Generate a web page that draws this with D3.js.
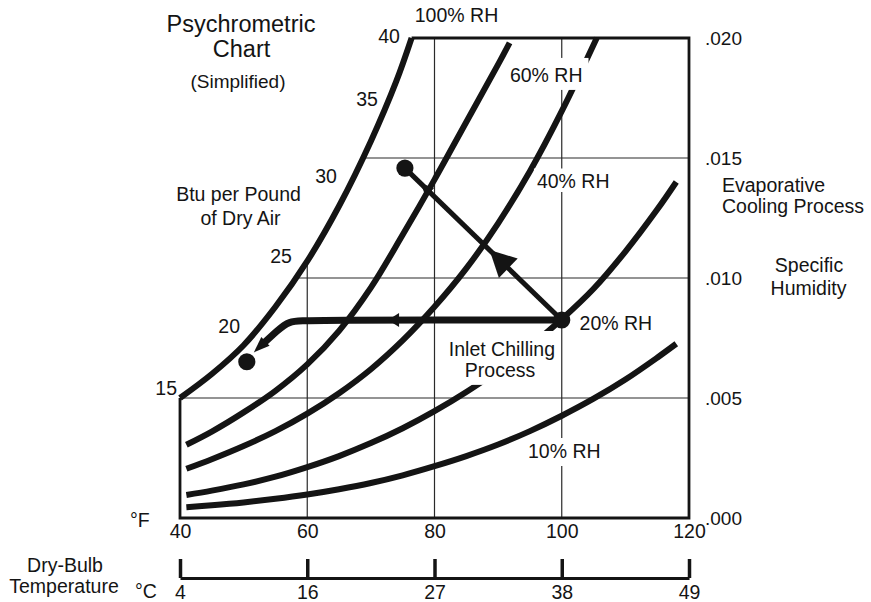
<!DOCTYPE html>
<html><head><meta charset="utf-8">
<script src="https://cdn.jsdelivr.net/npm/d3@7"></script>
<style>
html,body{margin:0;padding:0;background:#fff;}
svg{display:block;font-family:"Liberation Sans",Arial,Helvetica,sans-serif;}
</style></head>
<body><svg id="chart" width="871" height="602"></svg>
<script>
// ---------------- data ----------------
const tempTicksF = [40, 60, 80, 100, 120];
const tempTicksC = ["4", "16", "27", "38", "49"];
const humidityTicks = [0, 0.005, 0.010, 0.015, 0.020];
const gridTempsF = [60, 80, 100];
const gridHumidity = [0.005, 0.010, 0.015];

// relative-humidity curves: dry-bulb °F vs specific humidity
const rh100T = [40, 45, 50, 55, 60, 65, 70, 74, 76.4];
const rh100W = [.0050, .0060, .0072, .0088, .0107, .0130, .0157, .0182, .0200];
const rh60T = [41, 45, 50, 55, 60, 65, 70, 75, 80, 85, 90, 91.8];
const rh60W = [.00305, .00360, .00440, .00530, .00640, .00780, .00960, .01180, .01410, .01650, .01890, .01980];
const rh40T = [41, 45, 50, 55, 60, 65, 70, 75, 80, 85, 90, 95, 100, 105.5];
const rh40W = [.00205, .00245, .00300, .00362, .00435, .00520, .00620, .00740, .00880, .01040, .01228, .01445, .01695, .02000];
const rh20T = [41, 45, 50, 55, 60, 65, 70, 75, 80, 85, 90, 95, 100, 105, 110, 115, 118];
const rh20W = [.00096, .00114, .00140, .00172, .00212, .00258, .00312, .00374, .00445, .00525, .00614, .00715, .00828, .00955, .01110, .01285, .01400];
const rh10T = [41, 45, 50, 55, 60, 65, 70, 75, 80, 85, 90, 95, 100, 105, 110, 115, 118];
const rh10W = [.00045, .00053, .00065, .00080, .00098, .00120, .00146, .00178, .00216, .00258, .00306, .00362, .00426, .00497, .00577, .00668, .00726];

// enthalpy labels (Btu per pound of dry air) along the saturation curve
const enthalpyLabels = ["15", "20", "25", "30", "35", "40"];
const enthalpyT = [39.53, 49.43, 57.6, 64.67, 71.1, 74.56];
const enthalpyW = [.00512, .00771, .01062, .01396, .01717, .01979];

// processes
const inletPoint = [100, 0.00825];
const chilledPoint = [50.5, 0.00651];
const evapPoint = [75.35, 0.01458];
const chillPathT = [100, 60, 57, 55.3, 53.2];
const chillPathW = [.00825, .00825, .0082, .0078, .0073];
const chillArrowTip = [51.6, .0069];

// ---------------- chart ----------------
const svg = d3.select("#chart");
const xS = d3.scaleLinear().domain([40, 120]).range([180, 689]);
const yS = d3.scaleLinear().domain([0, 0.02]).range([518, 38]);
const INK = "#141414";
const FS = 19.5;

const zip = (T, W) => T.map((t, i) => [t, W[i]]);
const sat = zip(rh100T, rh100W);
const curveLine = d3.line().x(d => xS(d[0])).y(d => yS(d[1])).curve(d3.curveCatmullRom.alpha(0.5));

// clip region under saturation curve
const clipPts = sat.concat([[120, 0.02], [120, 0], [40, 0]]);
svg.append("clipPath").attr("id", "plotclip")
  .append("path")
  .attr("d", d3.line().x(d => xS(d[0])).y(d => yS(d[1]))(clipPts) + "Z");

// gridlines
const grid = svg.append("g").attr("clip-path", "url(#plotclip)")
  .attr("stroke", "#2a2a2a").attr("stroke-width", 1.2);
grid.selectAll("line.v").data(gridTempsF).join("line").attr("class", "v")
  .attr("x1", d => xS(d)).attr("x2", d => xS(d)).attr("y1", yS(0)).attr("y2", yS(0.02));
grid.selectAll("line.h").data(gridHumidity).join("line").attr("class", "h")
  .attr("y1", d => yS(d)).attr("y2", d => yS(d)).attr("x1", xS(40)).attr("x2", xS(120));

// border
const satTop = sat[sat.length - 1];
svg.append("path")
  .attr("d", d3.line()([[xS(40), yS(rh100W[0])], [xS(40), yS(0)], [xS(120), yS(0)], [xS(120), yS(0.02)], [xS(satTop[0]), yS(0.02)]]))
  .attr("fill", "none").attr("stroke", INK).attr("stroke-width", 2.8).attr("stroke-linejoin", "miter");

// RH curves
const curves = [zip(rh100T, rh100W), zip(rh60T, rh60W), zip(rh40T, rh40W), zip(rh20T, rh20W), zip(rh10T, rh10W)];
svg.append("g").selectAll("path").data(curves).join("path")
  .attr("d", curveLine).attr("fill", "none").attr("stroke", INK).attr("stroke-width", 6);

// text helper
function txt(s, px, py, opts = {}) {
  return svg.append("text").attr("x", px).attr("y", py)
    .attr("font-size", opts.size || FS).attr("fill", INK)
    .attr("text-anchor", opts.anchor || "start").text(s);
}
function boxed(lines, pad) {
  let x0 = Infinity, y0 = Infinity, x1 = -Infinity, y1 = -Infinity;
  lines.forEach(t => { const b = t.node().getBBox(); x0 = Math.min(x0, b.x); y0 = Math.min(y0, b.y); x1 = Math.max(x1, b.x + b.width); y1 = Math.max(y1, b.y + b.height); });
  svg.insert("rect", () => lines[0].node())
    .attr("x", x0 - pad[0]).attr("y", y0 - pad[2]).attr("width", x1 - x0 + pad[0] + pad[1]).attr("height", y1 - y0 + pad[2] + pad[3])
    .attr("fill", "#fff");
}

// RH labels
txt("100% RH", xS(76.9), yS(0.02) - 16);
boxed([txt("60% RH", xS(91.85), yS(0.01817))], [3, 6, 6, 4]);
boxed([txt("40% RH", xS(96.1), yS(0.01375))], [3, 3, 1.5, 0]);
txt("20% RH", xS(102.8), yS(0.00785));
boxed([txt("10% RH", xS(94.7), yS(0.00250))], [2, 3, 2, 4]);
boxed([txt("Inlet Chilling", xS(90.6), yS(0.00675), {anchor: "middle"}), txt("Process", xS(90.3), yS(0.00588), {anchor: "middle"})], [5, 0, 7, 4]);

// enthalpy labels
svg.append("g").selectAll("text").data(enthalpyLabels).join("text")
  .attr("x", (d, i) => xS(enthalpyT[i])).attr("y", (d, i) => yS(enthalpyW[i]))
  .attr("text-anchor", "end").attr("font-size", FS).attr("fill", INK).text(d => d);

// process lines
function arrowPoly(tip, from, len, hw) {
  const dx = tip[0] - from[0], dy = tip[1] - from[1];
  const L = Math.hypot(dx, dy), ux = dx / L, uy = dy / L;
  const qx = tip[0] - ux * len, qy = tip[1] - uy * len;
  return [tip, [qx - uy * hw, qy + ux * hw], [qx + uy * hw, qy - ux * hw]];
}
const P = d => [xS(d[0]), yS(d[1])];
const A = P(inletPoint), B = P(evapPoint);
const proc = svg.append("g");
// inlet chilling
const chill = zip(chillPathT, chillPathW);
proc.append("path").attr("d", d3.line().x(d => xS(d[0])).y(d => yS(d[1])).curve(d3.curveBasis)(chill))
  .attr("fill", "none").attr("stroke", INK).attr("stroke-width", 7);
const lastPt = P(chill[chill.length - 1]);
proc.append("path").attr("d", d3.line()(arrowPoly(P(chillArrowTip), lastPt, 16, 6)) + "Z").attr("fill", INK);
proc.append("path").attr("d", d3.line()(arrowPoly(P([72.7, inletPoint[1]]), A, 11, 7)) + "Z").attr("fill", INK);
// evaporative cooling
proc.append("line").attr("x1", A[0]).attr("y1", A[1]).attr("x2", B[0]).attr("y2", B[1])
  .attr("stroke", INK).attr("stroke-width", 5);
const along = f => [A[0] + f * (B[0] - A[0]), A[1] + f * (B[1] - A[1])];
proc.append("path").attr("d", d3.line()(arrowPoly(along(0.46), A, 26, 13.5)) + "Z").attr("fill", INK);
proc.append("path").attr("d", d3.line()(arrowPoly(along(0.9), A, 13, 6)) + "Z").attr("fill", INK);
// points
proc.selectAll("circle").data([inletPoint, chilledPoint, evapPoint]).join("circle")
  .attr("cx", d => xS(d[0])).attr("cy", d => yS(d[1])).attr("r", 8.6).attr("fill", INK);

// right axis (specific humidity)
const ry = svg.append("g").attr("transform", `translate(${xS(120)},0)`)
  .call(d3.axisRight(yS).tickValues(humidityTicks).tickSize(0).tickPadding(16)
    .tickFormat(d => d3.format(".3f")(d).slice(1)));
ry.select(".domain").remove();
ry.selectAll("text").attr("font-size", 19).attr("fill", INK);
ry.attr("font-family", null);

// bottom °F axis
const fAxis = svg.append("g").attr("transform", `translate(0,${yS(0)})`)
  .call(d3.axisBottom(xS).tickValues(tempTicksF).tickSize(0).tickPadding(6));
fAxis.select(".domain").remove();
fAxis.selectAll("text").attr("font-size", FS).attr("fill", INK);
fAxis.attr("font-family", null);

// °C axis
const cAxis = svg.append("g").attr("transform", "translate(0,578)")
  .call(d3.axisBottom(xS).tickValues(tempTicksF).tickSizeInner(-19).tickSizeOuter(0).tickPadding(7)
    .tickFormat((d, i) => tempTicksC[i]));
cAxis.select(".domain").attr("stroke", INK).attr("stroke-width", 3);
cAxis.selectAll(".tick line").attr("stroke", INK).attr("stroke-width", 3.5);
cAxis.selectAll("text").attr("font-size", FS).attr("fill", INK);
cAxis.attr("font-family", null);

// titles and annotations
txt("Psychrometric", 241, 31.5, {anchor: "middle", size: 23.5});
txt("Chart", 241.5, 57, {anchor: "middle", size: 23.5});
txt("(Simplified)", 238, 88, {anchor: "middle", size: 19});
txt("Btu per Pound", 238.5, 201, {anchor: "middle"});
txt("of Dry Air", 240.5, 225, {anchor: "middle"});
txt("Evaporative", 722, 192);
txt("Cooling Process", 722, 213);
txt("Specific", 809, 272, {anchor: "middle"});
txt("Humidity", 808.5, 295, {anchor: "middle"});
txt("°F", 130, 527);
txt("°C", 135, 598);
txt("Dry-Bulb", 65, 572, {anchor: "middle"});
txt("Temperature", 64, 593, {anchor: "middle"});
</script>
</body></html>
